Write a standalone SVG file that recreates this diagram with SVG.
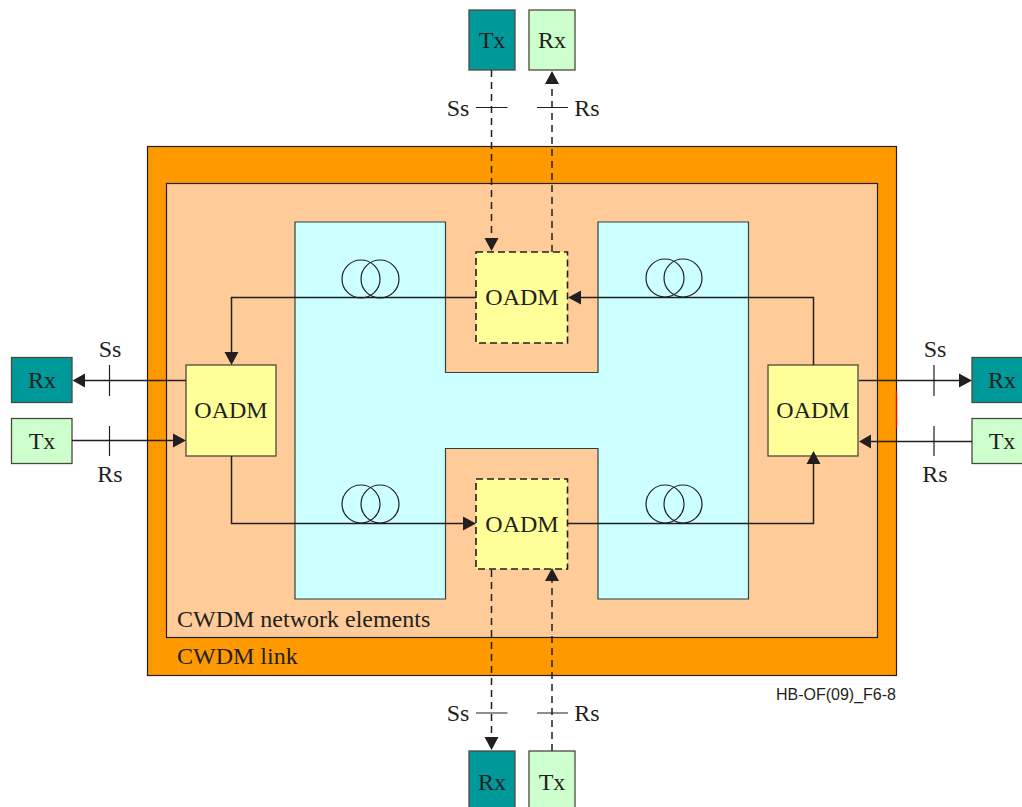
<svg xmlns="http://www.w3.org/2000/svg" width="1022" height="807" viewBox="0 0 1022 807">
<style>
text{font-family:"Liberation Serif","Times New Roman",serif;font-size:24px;fill:#231f20}
.c{text-anchor:middle}
.box{stroke:#4a4a40;stroke-width:1.3}
.teal{fill:#009999}
.pale{fill:#ccffcc}
.oadm{fill:#ffff99;stroke:#4a4a40;stroke-width:1.3}
.dash{stroke:#231f20;stroke-width:1.5;stroke-dasharray:7 5}
.ln{fill:none;stroke:#231f20;stroke-width:1.5}
.tick{fill:none;stroke:#231f20;stroke-width:1.2}
.ring{fill:none;stroke:#231f20;stroke-width:1.2}
.ah{fill:#231f20}
</style>
<g id="link"><rect x="147.500" y="146.500" width="749" height="529" fill="#ff9900" stroke="#231f20" stroke-width="1.2"/><text x="177" y="664">CWDM link</text></g>
<g id="elements"><rect x="166.500" y="183.500" width="711" height="454" fill="#ffcc99" stroke="#231f20" stroke-width="1.2"/><text x="177" y="627">CWDM network elements</text></g>
<g id="region"><path d="M295 222H445.500V372.500H598V222H748.500V599H598V448.500H445.500V599H295Z" fill="#ccffff" stroke="#2f4040" stroke-width="1.2"/></g>
<path d="M896.500 391V428" stroke="#ff0000" stroke-width="1.2" fill="none"/>

<g id="oadm-left"><rect class="oadm" x="186" y="365" width="90" height="91"/><text class="c" x="231" y="418">OADM</text></g>
<g id="oadm-right"><rect class="oadm" x="768" y="365" width="90" height="91"/><text class="c" x="813" y="418">OADM</text></g>
<g id="oadm-top"><rect class="oadm" x="476" y="252" width="91.500" height="91" style="stroke:#231f20;stroke-dasharray:7 4;stroke-width:1.6"/><text class="c" x="522" y="305">OADM</text></g>
<g id="oadm-bottom"><rect class="oadm" x="476" y="479" width="91.500" height="90" style="stroke:#231f20;stroke-dasharray:7 4;stroke-width:1.6"/><text class="c" x="522" y="532">OADM</text></g>

<g id="tx-top"><rect class="box teal" x="469" y="10" width="46" height="60"/><text class="c" x="492" y="48">Tx</text></g>
<g id="rx-top"><rect class="box pale" x="529" y="10" width="46" height="60"/><text class="c" x="552" y="48">Rx</text></g>
<g id="rx-bottom"><rect class="box teal" x="469" y="751" width="46" height="60"/><text class="c" x="492" y="790">Rx</text></g>
<g id="tx-bottom"><rect class="box pale" x="529" y="751" width="46" height="60"/><text class="c" x="552" y="790">Tx</text></g>
<g id="rx-left"><rect class="box teal" x="11.500" y="357.500" width="60.500" height="45"/><text class="c" x="42" y="388">Rx</text></g>
<g id="tx-left"><rect class="box pale" x="11.500" y="418.500" width="60.500" height="45"/><text class="c" x="42" y="449">Tx</text></g>
<g id="rx-right"><rect class="box teal" x="972" y="357.500" width="60.500" height="45"/><text class="c" x="1002" y="388">Rx</text></g>
<g id="tx-right"><rect class="box pale" x="972" y="418.500" width="60.500" height="45"/><text class="c" x="1002" y="449">Tx</text></g>

<g id="connectors">
<path class="ln" d="M476 297.500H231.500V355"/>
<path class="ln" d="M813.500 365V297.500H578"/>
<path class="ln" d="M231.500 456V523.500H466"/>
<path class="ln" d="M568 523.500H813.500V462"/>
<path class="ln" d="M186 380.500H84M859 380.500H962M972 441.500H869M72 440.500H176"/>
<path class="ln dash" d="M491.500 70V241"/>
<path class="ln dash" d="M552 252V82"/>
<path class="ln dash" d="M491.500 570V740"/>
<path class="ln dash" d="M552 751V579"/>
<path class="ah" d="M231.500 365L224.500 352H238.500ZM568 297.500L581 290.500V304.500ZM476 523.500L463 516.500V530.500ZM813.500 451L806.500 464H820.500ZM72.500 380.500L85 373.500V387.500ZM972 380.500L959 373.500V387.500ZM859 441.500L871 434.500V448.500ZM186 440.500L173 433.500V447.500ZM491.500 251L484.500 238H498.500ZM552 71L545 84H559ZM491.500 750L484.500 737H498.500ZM552 568L545 581H559Z"/>
<path class="tick" d="M109.500 365V396M109.500 426V456M934 365V396M934 426V456M476 107.500H507.500M537 107.500H568M476 713H507.500M537 713H568"/>
<g class="ring"><circle cx="361" cy="279" r="19"/><circle cx="380" cy="279" r="19"/><circle cx="665" cy="278" r="19"/><circle cx="683" cy="278" r="19"/><circle cx="361" cy="504" r="19"/><circle cx="380" cy="504" r="19"/><circle cx="665" cy="504" r="19"/><circle cx="683" cy="504" r="19"/></g>
</g>

<g id="labels">
<text class="c" x="110" y="357">Ss</text><text class="c" x="110" y="482">Rs</text>
<text class="c" x="935" y="357">Ss</text><text class="c" x="935" y="482">Rs</text>
<text class="c" x="458" y="116">Ss</text><text class="c" x="587" y="116">Rs</text>
<text class="c" x="458" y="721">Ss</text><text class="c" x="587" y="721">Rs</text>
<text x="896" y="700" text-anchor="end" style="font-family:'Liberation Sans',Arial,sans-serif;font-size:16px">HB-OF(09)_F6-8</text>
</g>
</svg>
